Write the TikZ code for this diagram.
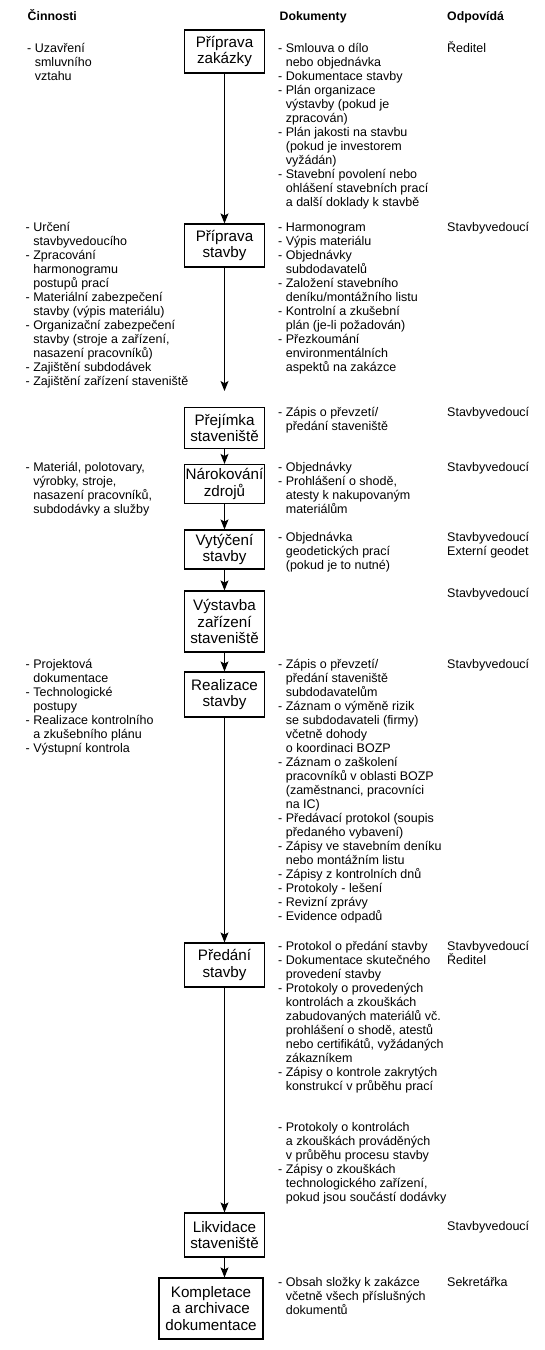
\documentclass[tikz,border=0pt]{standalone}
\usepackage{fontspec}
\setmainfont{Liberation Sans}
\usetikzlibrary{arrows.meta}
\newcommand\ind{\hphantom{-\ }}
\newcommand\fst{\rule{0pt}{12pt}}
\newcommand\tightls{\lineskiplimit-20pt\relax}
\newcommand\txtfont{\fontsize{12.5}{14}\selectfont\tightls}
\newcommand\boxfont{\fontsize{15.2}{16.8}\selectfont\tightls}
\newcommand\hdrfont{\fontsize{12.3}{14}\selectfont\bfseries}
\begin{document}
\begin{tikzpicture}[x=1pt,y=-1pt,
  txt/.style={anchor=north west, inner sep=0pt, align=left, font=\txtfont},
  hdr/.style={anchor=base west, inner sep=0pt, font=\hdrfont},
  stage/.style={draw, line width=1.25pt, minimum width=80pt, inner sep=0pt, align=center, font=\boxfont},
  arr/.style={line width=1.1pt, -{Stealth[length=10pt,width=8pt,inset=2.2pt]}}
]
\useasboundingbox (0,0) rectangle (544,1350);

% headers
\node[hdr] (h1) at (27.5,20.5) {Činnosti};
\node[hdr] (h2) at (279.5,20.5) {Dokumenty};
\node[hdr] (h3) at (447,20.5) {Odpovídá};

% stages
\node[stage, minimum height=43pt] (b1) at (224.5,51.5) {Příprava\\zakázky};
\node[stage, minimum height=43pt] (b2) at (224.5,245.5) {Příprava\\stavby};
\node[stage, minimum height=41pt] (b3) at (224.5,428) {Přejímka\\staveniště};
\node[stage, minimum height=39pt] (b4) at (224.5,484) {Nárokování\\zdrojů};
\node[stage, minimum height=39pt] (b5) at (224.5,549.5) {Vytýčení\\stavby};
\node[stage, minimum height=61pt] (b6) at (224.5,621.5) {Výstavba\\zařízení\\staveniště};
\node[stage, minimum height=45pt] (b7) at (224.5,694.5) {Realizace\\stavby};
\node[stage, minimum height=44pt] (b8) at (224.5,965) {Předání\\stavby};
\node[stage, minimum height=44pt] (b9) at (224.5,1235) {Likvidace\\staveniště};
\node[stage, minimum height=61pt, minimum width=104pt] (b10) at (211,1308.5) {Kompletace\\a archivace\\dokumentace};

% arrows
\coordinate (e23) at (224.5,391);
\draw[arr] (b1) -- (b2);
\draw[arr] (b2) -- (e23);
\draw[arr] (b3) -- (b4);
\draw[arr] (b4) -- (b5);
\draw[arr] (b5) -- (b6);
\draw[arr] (b6) -- (b7);
\draw[arr] (b7) -- (b8);
\draw[arr] (b8) -- (b9);
\draw[arr] (b9.south) -- (b9.south |- b10.north);

% Cinnosti
\node[txt] (l1) at (27,40) {\fst- Uzavření\\\ind smluvního\\\ind vztahu};
\node[txt] (l2) at (25.5,219.5) {\fst- Určení\\\ind stavbyvedoucího\\- Zpracování\\\ind harmonogramu\\\ind postupů prací\\- Materiální zabezpečení\\\ind stavby (výpis materiálu)\\- Organizační zabezpečení\\\ind stavby (stroje a zařízení,\\\ind nasazení pracovníků)\\- Zajištění subdodávek\\- Zajištění zařízení staveniště};
\node[txt] (l4) at (25.5,459.7) {\fst- Materiál, polotovary,\\\ind výrobky, stroje,\\\ind nasazení pracovníků,\\\ind subdodávky a služby};
\node[txt] (l7) at (25.5,656.3) {\fst- Projektová\\\ind dokumentace\\- Technologické\\\ind postupy\\- Realizace kontrolního\\\ind a zkušebního plánu\\- Výstupní kontrola};

% Dokumenty
\node[txt] (d1) at (278,40) {\fst- Smlouva o dílo\\\ind nebo objednávka\\- Dokumentace stavby\\- Plán organizace\\\ind výstavby (pokud je\\\ind zpracován)\\- Plán jakosti na stavbu\\\ind (pokud je investorem\\\ind vyžádán)\\- Stavební povolení nebo\\\ind ohlášení stavebních prací\\\ind a další doklady k stavbě};
\node[txt] (d2) at (278,219.5) {\fst- Harmonogram\\- Výpis materiálu\\- Objednávky\\\ind subdodavatelů\\- Založení stavebního\\\ind deníku/montážního listu\\- Kontrolní a zkušební\\\ind plán (je-li požadován)\\- Přezkoumání\\\ind environmentálních\\\ind aspektů na zakázce};
\node[txt] (d3) at (278,404) {\fst- Zápis o převzetí/\\\ind předání staveniště};
\node[txt] (d4) at (278,459.7) {\fst- Objednávky\\- Prohlášení o shodě,\\\ind atesty k nakupovaným\\\ind materiálům};
\node[txt] (d5) at (278,529.7) {\fst- Objednávka\\\ind geodetických prací\\\ind (pokud je to nutné)};
\node[txt] (d7) at (278,656.3) {\fst- Zápis o převzetí/\\\ind předání staveniště\\\ind subdodavatelům\\- Záznam o výměně rizik\\\ind se subdodavateli (firmy)\\\ind včetně dohody\\\ind o koordinaci BOZP\\- Záznam o zaškolení\\\ind pracovníků v oblasti BOZP\\\ind (zaměstnanci, pracovníci\\\ind na IC)\\- Předávací protokol (soupis\\\ind předaného vybavení)\\- Zápisy ve stavebním deníku\\\ind nebo montážním listu\\- Zápisy z kontrolních dnů\\- Protokoly - lešení\\- Revizní zprávy\\- Evidence odpadů};
\node[txt] (d8) at (278,938) {\fst- Protokol o předání stavby\\- Dokumentace skutečného\\\ind provedení stavby\\- Protokoly o provedených\\\ind kontrolách a zkouškách\\\ind zabudovaných materiálů vč.\\\ind prohlášení o shodě, atestů\\\ind nebo certifikátů, vyžádaných\\\ind zákazníkem\\- Zápisy o kontrole zakrytých\\\ind konstrukcí v průběhu prací};
\node[txt] (d8b) at (278,1119.7) {\fst- Protokoly o kontrolách\\\ind a zkouškách prováděných\\\ind v průběhu procesu stavby\\- Zápisy o zkouškách\\\ind technologického zařízení,\\\ind pokud jsou součástí dodávky};
\node[txt] (d10) at (278,1274.7) {\fst- Obsah složky k zakázce\\\ind včetně všech příslušných\\\ind dokumentů};

% Odpovida
\node[txt] (r1) at (447,40) {\fst Ředitel};
\node[txt] (r2) at (447,219.5) {\fst Stavbyvedoucí};
\node[txt] (r3) at (447,404) {\fst Stavbyvedoucí};
\node[txt] (r4) at (447,459.7) {\fst Stavbyvedoucí};
\node[txt] (r5) at (447,529.7) {\fst Stavbyvedoucí\\Externí geodet};
\node[txt] (r6) at (447,585) {\fst Stavbyvedoucí};
\node[txt] (r7) at (447,656.3) {\fst Stavbyvedoucí};
\node[txt] (r8) at (447,938) {\fst Stavbyvedoucí\\Ředitel};
\node[txt] (r9) at (447,1218) {\fst Stavbyvedoucí};
\node[txt] (r10) at (447,1274.7) {\fst Sekretářka};
\end{tikzpicture}
\end{document}
